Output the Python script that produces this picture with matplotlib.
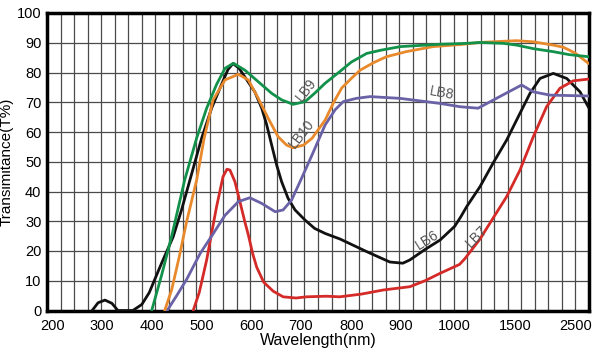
import numpy as np
import matplotlib
matplotlib.use("Agg")
import matplotlib.pyplot as plt

plt.rcParams["font.family"] = ["Liberation Sans", "DejaVu Sans"]

# tick labels of the uneven wavelength axis and where they sit (pixel-ish units)
tick_nm = [200, 300, 400, 500, 600, 700, 800, 900, 1000, 1500, 2500]
tick_pos = [52.7, 102, 151.7, 201.7, 251.3, 301, 351.3, 400.7, 454.7, 515.7, 575.3]

# curves: wavelength (nm), transmittance (%)
lb6_nm = [280, 292, 306, 320, 332, 362, 380, 395, 403, 420, 443, 460, 480, 500, 520, 540,
          553, 563, 575, 587, 607, 621, 631, 641, 651, 661, 674, 688, 708, 727, 748, 778,
          831, 878, 904, 917, 945, 973, 1000, 1050, 1098, 1207, 1314, 1426, 1572, 1740,
          1908, 2131, 2356, 2579, 2730]
lb6_t = [0, 2.6, 3.5, 2.4, 0, 0, 2, 6, 9.2, 16, 24.8, 34, 46, 58, 68, 76,
         81, 83, 81.5, 78.5, 73.5, 68, 62.4, 55.6, 48.9, 43.3, 37.7, 33.8, 30.4, 27.6, 25.9, 24,
         19.8, 16.3, 15.9, 17, 20.5, 23.7, 28.3, 31.5, 34.9, 41.6, 49.5, 57.3, 66.3, 73,
         78, 79.7, 78, 73.5, 68]

lb9_nm = [400, 420, 440, 466, 490, 510, 530, 547, 564, 587, 614, 641, 661, 684, 708, 727,
          748, 777, 800, 831, 860, 899, 973, 1100, 1207, 1400, 1517, 1800, 2131, 2400, 2725]
lb9_t = [0, 12, 25, 43.9, 58, 68, 76, 81.4, 83.1, 80.8, 76.9, 73, 70.8, 69.3, 70.2, 73,
         76.4, 80.3, 83.5, 86.4, 87.5, 88.7, 89.5, 89.8, 90.1, 89.8, 89.2, 88, 87, 86, 85.3]

lb10_nm = [426, 440, 455, 470, 490, 505, 523, 547, 574, 594, 614, 634, 654, 671, 684, 705,
           722, 748, 765, 781, 800, 818, 845, 871, 910, 960, 1050, 1207, 1400, 1517, 1800,
           2131, 2300, 2500, 2725]
lb10_t = [0, 7, 18, 30, 43.9, 58, 70.8, 77.5, 79.4, 77.5, 71.3, 64.6, 58.4, 55.6, 54.7, 55.6,
          57.9, 64, 70, 74.8, 78, 80.8, 83.3, 85.3, 87, 88.7, 89.4, 90.1, 90.5, 90.7, 90.3,
          89.2, 88.5, 86.5, 83]

lb8_nm = [431, 450, 470, 497, 520, 547, 574, 597, 621, 648, 664, 681, 701, 722, 748, 768,
          784, 810, 838, 899, 973, 1043, 1192, 1369, 1600, 1795, 2075, 2725]
lb8_t = [0, 5, 10.5, 19.2, 25, 32, 36.6, 37.9, 36, 33.2, 33.8, 37.1, 44.4, 52.3, 62.4, 67.5,
         70.2, 71.3, 71.9, 71.3, 69.6, 68.5, 68, 71.9, 75.8, 73.5, 72.4, 72.1]

lb7_nm = [483, 495, 510, 520, 530, 543, 551, 557, 567, 577, 587, 594, 603, 611, 625, 644,
          664, 690, 711, 750, 777, 820, 865, 917, 945, 973, 1040, 1085, 1207, 1314, 1426,
          1572, 1795, 2018, 2242, 2466, 2725]
lb7_t = [0, 6, 17, 26, 34.9, 45, 47.5, 47.2, 43.3, 36.6, 29.8, 25.4, 19, 14.5, 9.5, 6.5,
         4.6, 4.2, 4.6, 4.8, 4.6, 5.5, 6.9, 8, 10, 12.5, 15.5, 17.5, 24, 31, 38.3,
         47.2, 58.4, 68.5, 74.7, 77.2, 77.8]

series = [
    ("LB6", lb6_nm, lb6_t, "#111111"),
    ("LB7", lb7_nm, lb7_t, "#d42a28"),
    ("LB8", lb8_nm, lb8_t, "#6a62a6"),
    ("LB10", lb10_nm, lb10_t, "#e8892c"),
    ("LB9", lb9_nm, lb9_t, "#12914a"),
]

# label text, position (nm, %), rotation
labels = [
    ("LB9", 711, 74.1, 52),
    ("LB10", 701, 59.5, 52),
    ("LB8", 976, 73, -10),
    ("LB6", 950, 23.7, 32),
    ("LB7", 1180, 24.8, 45),
]

knot_nm = np.array([100] + tick_nm + [3500])
knot_pos = np.array([3.0] + tick_pos + [635.0])


def fwd(x):
    return np.interp(x, knot_nm, knot_pos)


def inv(p):
    return np.interp(p, knot_pos, knot_nm)


fig = plt.figure(figsize=(6.0, 3.54), dpi=100)
ax = fig.add_axes([47 / 600, 1 - 310.5 / 354, 542 / 600, 297.5 / 354])
ax.set_xscale("function", functions=(fwd, inv))
ax.set_xlim(inv(47), inv(589))
ax.set_ylim(0, 100)

# grid: horizontal every 10 %, vertical 40 even cells
for y in range(10, 100, 10):
    ax.axhline(y, color="#4a4a4a", lw=0.9, zorder=1)
for k in range(1, 40):
    ax.plot([k / 40, k / 40], [0, 1], color="#4a4a4a", lw=0.9, zorder=1,
            transform=ax.transAxes)

for name, xs, ys, c in series:
    ax.plot(xs, ys, color=c, lw=2.0, zorder=3, solid_joinstyle="round",
            solid_capstyle="round")

for txt, x, y, rot in labels:
    ax.text(x, y, txt, rotation=rot, color="#555555", fontsize=10,
            ha="center", va="center", zorder=4)

ax.set_xticks(tick_nm)
ax.set_xticklabels([str(t) for t in tick_nm])
ax.set_yticks(range(0, 101, 10))
ax.tick_params(length=0, labelsize=10.5)
ax.tick_params(axis="x", pad=6)
ax.tick_params(axis="y", pad=4)
for s in ax.spines.values():
    s.set_linewidth(2.5)
ax.set_xlabel("Wavelength(nm)", fontsize=11.5, labelpad=0)
ax.set_ylabel("Transimitance(T%)", fontsize=11, labelpad=2)

fig.savefig("out.png", dpi=100)
